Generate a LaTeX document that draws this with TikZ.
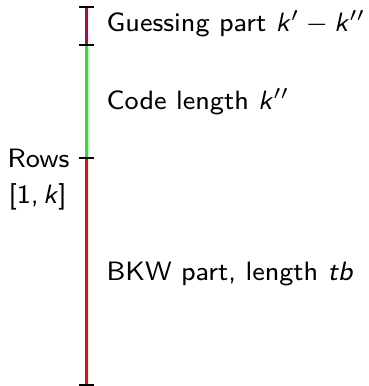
\documentclass[tikz,border=0pt]{standalone}
\usepackage{fontspec}
\begin{document}
\begin{tikzpicture}[x=1pt,y=-1pt,
  seg/.style={line width=3pt},
  tick/.style={line width=1.5pt,black},
  lbl/.style={anchor=base west,inner sep=0pt,scale=3.32,font=\sffamily\fontsize{8}{9.6}\selectfont}]
\useasboundingbox (0,0) rectangle (368,386);
\coordinate (t0) at (86.5,7);
\coordinate (t1) at (86.5,45);
\coordinate (t2) at (86.5,158);
\coordinate (t3) at (86.5,385);
\draw[seg,purple] (t0) -- (t1);
\draw[seg,green] (t1) -- (t2);
\draw[seg,red] (t2) -- (t3);
\foreach \t in {t0,t1,t2,t3}{\draw[tick] ([xshift=-7.5pt]\t) -- ([xshift=7.5pt]\t);}
\node[lbl] (g) at (106,31) {Guessing part \textit{k}$'-{}$\textit{k}$''$};
\node[lbl] (c) at (106,109) {Code length \textit{k}$''$};
\node[lbl] (r) at (7,167) {Rows};
\node[lbl] (i) at (8,203) {[1,\,\textit{k}]};
\node[lbl] (b) at (106,280) {BKW part, length \textit{tb}};
\end{tikzpicture}
\end{document}
